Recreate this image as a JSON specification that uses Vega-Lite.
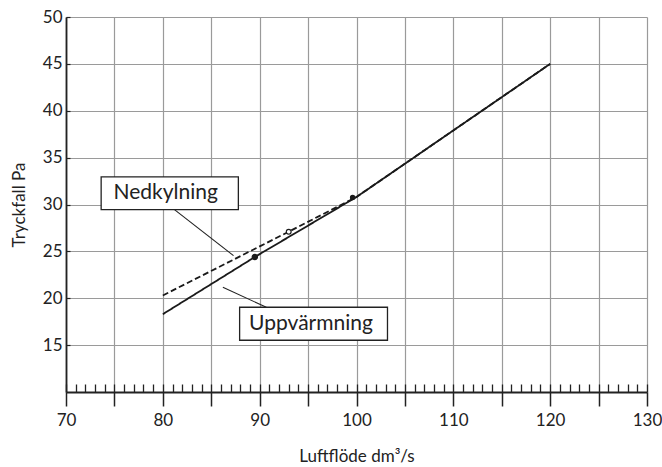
{
  "$schema": "https://vega.github.io/schema/vega-lite/v6.json",
  "width": 581,
  "height": 375,
  "autosize": {"type": "none"},
  "padding": {"left": 66, "top": 17, "right": 15, "bottom": 75},
  "background": "white",
  "config": {"view": {"stroke": null}, "font": "Lato"},
  "datasets": {
    "curves": [
      {"series": "Uppvärmning", "flow": 80, "pressure": 18.3},
      {"series": "Uppvärmning", "flow": 89.5, "pressure": 24.4},
      {"series": "Uppvärmning", "flow": 100, "pressure": 30.8},
      {"series": "Uppvärmning", "flow": 105, "pressure": 34.35},
      {"series": "Uppvärmning", "flow": 110, "pressure": 37.9},
      {"series": "Uppvärmning", "flow": 115, "pressure": 41.45},
      {"series": "Uppvärmning", "flow": 120, "pressure": 45.0},
      {"series": "Nedkylning", "flow": 80, "pressure": 20.3},
      {"series": "Nedkylning", "flow": 93, "pressure": 27.1},
      {"series": "Nedkylning", "flow": 100, "pressure": 30.8},
      {"series": "Nedkylning", "flow": 105, "pressure": 34.35},
      {"series": "Nedkylning", "flow": 110, "pressure": 37.9},
      {"series": "Nedkylning", "flow": 115, "pressure": 41.45},
      {"series": "Nedkylning", "flow": 120, "pressure": 45.0}
    ],
    "points": [
      {"kind": "filled", "flow": 89.5, "pressure": 24.4},
      {"kind": "open", "flow": 93.0, "pressure": 27.1},
      {"kind": "small", "flow": 99.6, "pressure": 30.75}
    ],
    "boxes": [
      {"label": "Nedkylning", "x1": 73.63, "x2": 87.8, "pressure": 29.46, "y2": 32.94, "tx": 80.3, "ty": 31.2},
      {"label": "Uppvärmning", "x1": 87.93, "x2": 103.2, "pressure": 15.52, "y2": 19.04, "tx": 95.3, "ty": 17.3}
    ],
    "leaders": [
      {"label": "Nedkylning", "x1": 81.2, "pressure": 29.46, "x2": 87.3, "y2": 24.55},
      {"label": "Uppvärmning", "x1": 86.2, "pressure": 21.17, "x2": 90.69, "y2": 19.04}
    ]
  },
  "encoding": {
    "y": {
      "field": "pressure", "type": "quantitative",
      "scale": {"domain": [10, 50], "nice": false, "zero": false},
      "axis": {
        "values": [15, 20, 25, 30, 35, 40, 45, 50],
        "grid": true, "gridColor": "#9a9a9a", "gridWidth": 1.2,
        "ticks": true, "tickSize": -4, "tickColor": "#222", "tickWidth": 1.2,
        "domain": true, "domainColor": "#222", "domainWidth": 1.8,
        "labelFontSize": 17, "labelColor": "#222", "labelPadding": 8,
        "title": "Tryckfall Pa", "titleFontSize": 17, "titleFontWeight": "normal",
        "titleColor": "#222222", "titlePadding": 14
      }
    }
  },
  "layer": [
    {
      "data": {"name": "curves"},
      "mark": {"type": "line", "color": "#1a1a1a", "strokeWidth": 1.8},
      "encoding": {
        "x": {
          "field": "flow", "type": "quantitative",
          "scale": {"domain": [70, 130], "nice": false, "zero": false},
          "axis": {
            "orient": "bottom",
            "values": [70, 75, 80, 85, 90, 95, 100, 105, 110, 115, 120, 125, 130],
            "labelExpr": "datum.value % 10 === 0 ? datum.label : ''",
            "grid": true, "gridColor": "#9a9a9a", "gridWidth": 1.2,
            "ticks": true, "tickSize": 14, "tickColor": "#222", "tickWidth": 1.5,
            "domain": true, "domainColor": "#222", "domainWidth": 1.8,
            "labelFontSize": 17, "labelColor": "#222", "labelPadding": 6, "labelFlush": false,
            "title": "Luftflöde dm³/s", "titleFontSize": 17, "titleFontWeight": "normal",
            "titleColor": "#222", "titlePadding": 20
          }
        },
        "detail": {"field": "series", "type": "nominal"},
        "strokeDash": {
          "field": "series", "type": "nominal",
          "scale": {"domain": ["Uppvärmning", "Nedkylning"], "range": [[1, 0], [6, 3]]},
          "legend": null
        }
      }
    },
    {
      "data": {"name": "points"},
      "mark": {"type": "point", "shape": "circle", "filled": true, "stroke": "#1a1a1a", "strokeWidth": 1.2, "opacity": 1},
      "encoding": {
        "x": {
          "field": "flow", "type": "quantitative",
          "axis": {
            "orient": "bottom",
            "values": [70,71,72,73,74,75,76,77,78,79,80,81,82,83,84,85,86,87,88,89,90,91,92,93,94,95,96,97,98,99,100,101,102,103,104,105,106,107,108,109,110,111,112,113,114,115,116,117,118,119,120,121,122,123,124,125,126,127,128,129,130],
            "labels": false, "domain": false, "grid": false, "title": null,
            "ticks": true, "tickSize": -8, "tickColor": "#222", "tickWidth": 1.3
          }
        },
        "fill": {
          "field": "kind", "type": "nominal",
          "scale": {"domain": ["filled", "open", "small"], "range": ["#1a1a1a", "#ffffff", "#1a1a1a"]},
          "legend": null
        },
        "size": {
          "field": "kind", "type": "nominal",
          "scale": {"domain": ["filled", "open", "small"], "range": [28, 18, 5]},
          "legend": null
        }
      }
    },
    {
      "data": {"name": "leaders"},
      "mark": {"type": "rule", "color": "#222", "strokeWidth": 1.1},
      "encoding": {
        "x": {"field": "x1", "type": "quantitative", "axis": null},
        "x2": {"field": "x2"},
        "y2": {"field": "y2"}
      }
    },
    {
      "data": {"name": "boxes"},
      "mark": {"type": "rect", "fill": "white", "stroke": "#222", "strokeWidth": 1.3},
      "encoding": {
        "x": {"field": "x1", "type": "quantitative", "axis": null},
        "x2": {"field": "x2"},
        "y2": {"field": "y2"}
      }
    },
    {
      "data": {"name": "boxes"},
      "mark": {"type": "text", "fontSize": 21, "color": "#222", "align": "center", "baseline": "middle", "font": "Lato"},
      "encoding": {
        "x": {"field": "tx", "type": "quantitative", "axis": null},
        "y": {"field": "ty", "type": "quantitative"},
        "text": {"field": "label"}
      }
    }
  ],
  "resolve": {"axis": {"x": "independent"}}
}
